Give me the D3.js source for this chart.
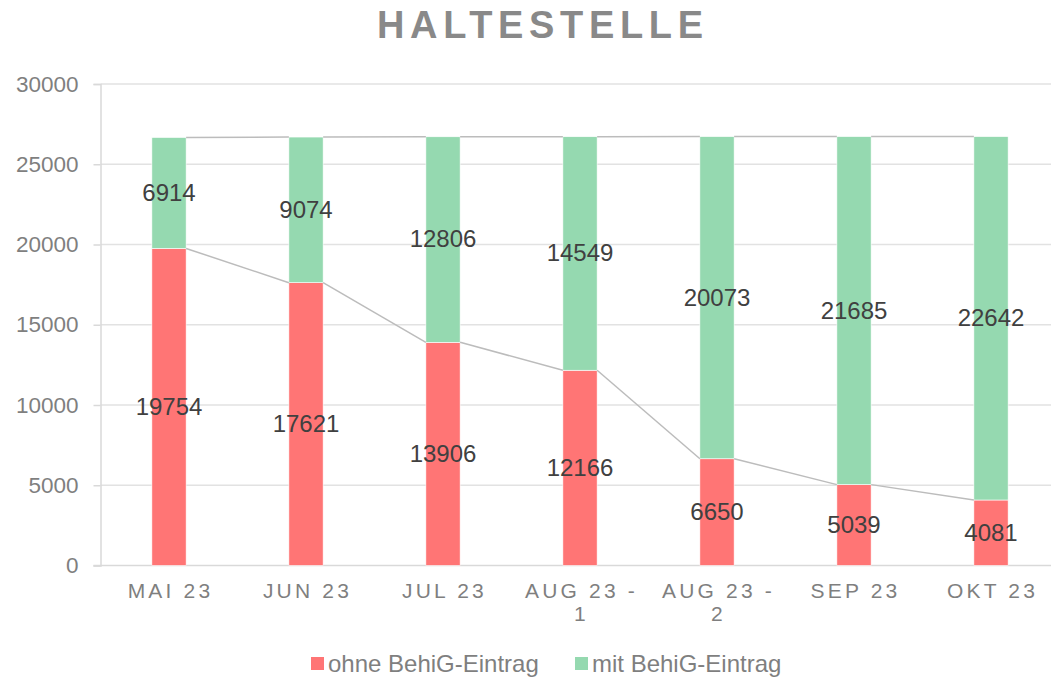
<!DOCTYPE html>
<html>
<head>
<meta charset="utf-8">
<script src="https://cdn.jsdelivr.net/npm/d3@7"></script>
<style>
  body { margin: 0; background: #fff; }
  text { font-family: "Liberation Sans", Arial, sans-serif; }
</style>
</head>
<body>
<div id="chart"></div>
<script>

const categories = [["MAI 23"], ["JUN 23"], ["JUL 23"], ["AUG 23 -", "1"], ["AUG 23 -", "2"], ["SEP 23"], ["OKT 23"]];
const ohne = [19754, 17621, 13906, 12166, 6650, 5039, 4081];
const mit = [6914, 9074, 12806, 14549, 20073, 21685, 22642];
const seriesNames = ["ohne BehiG-Eintrag", "mit BehiG-Eintrag"];
const yTicks = [0, 5000, 10000, 15000, 20000, 25000, 30000];

const W = 1051, H = 678;
const X0 = 100.5, X1 = 1059.5;
const Y_TOP = 84, Y_BOT = 565.5;

const COLOR_RED = "#ff7575";
const COLOR_GREEN = "#95d9b0";
const COLOR_TEXT = "#7f7f7f";
const COLOR_LABEL = "#404040";
const COLOR_GRID = "#e2e2e2";

// -------------------------------------------------

let svg = d3.select("#chart")
            .append("svg")
                .attr("width", W)
                .attr("height", H);

let keys = categories.map((c, i) => i);

let table = keys.map(i => ({ i: i, ohne: ohne[i], mit: mit[i] }));
let stacked = d3.stack().keys(["ohne", "mit"])(table);

let x = d3.scaleBand()
            .domain(keys)
            .range([X0, X1])
            .paddingInner(0.75)
            .paddingOuter(0.375);

let y = d3.scaleLinear()
            .domain([0, 30000])
            .range([Y_BOT, Y_TOP]);

// title, letter-spaced bold
svg.append("text")
        .attr("x", 540)
        .attr("y", 37.5)
        .attr("text-anchor", "middle")
        .attr("font-weight", "bold")
        .attr("font-size", 38)
        .attr("textLength", 326)
        .attr("lengthAdjust", "spacing")
        .attr("fill", "#898989")
        .text("HALTESTELLE");

// gridlines
svg.append("g")
    .selectAll("line")
    .data(yTicks.filter(d => d > 0))
    .join("line")
        .attr("x1", X0)
        .attr("x2", X1)
        .attr("y1", d => y(d))
        .attr("y2", d => y(d))
        .attr("stroke", COLOR_GRID)
        .attr("stroke-width", 1.5);

// y axis
let yAxis = svg.append("g")
        .attr("transform", "translate(" + X0 + ",0)")
        .call(d3.axisLeft(y).tickValues(yTicks).tickSize(7).tickPadding(15).tickFormat(d3.format("d")));

yAxis.select(".domain").attr("stroke", "#d9d9d9").attr("stroke-width", 1.5);
yAxis.selectAll(".tick line").attr("stroke", "#d9d9d9").attr("stroke-width", 1.5);
yAxis.selectAll(".tick text")
        .attr("font-family", "'Liberation Sans', Arial, sans-serif")
        .attr("font-size", 22.5)
        .attr("fill", COLOR_TEXT);

// x axis line
svg.append("line")
        .attr("x1", X0 - 7)
        .attr("x2", X1)
        .attr("y1", Y_BOT)
        .attr("y2", Y_BOT)
        .attr("stroke", "#d9d9d9")
        .attr("stroke-width", 1.5);

// bars
let colors = [COLOR_RED, COLOR_GREEN];

svg.append("g")
    .selectAll("g")
    .data(stacked)
    .join("g")
        .attr("fill", (d, k) => colors[k])
    .selectAll("rect")
    .data(d => d)
    .join("rect")
        .attr("x", d => x(d.data.i))
        .attr("y", d => y(d[1]))
        .attr("width", x.bandwidth())
        .attr("height", d => y(d[0]) - y(d[1]))
        .attr("stroke", "#fff")
        .attr("stroke-width", 0.6);

// series lines between the stack tops
stacked.forEach(function (s) {
    for (let i = 0; i < s.length - 1; i++) {
        svg.append("line")
                .attr("x1", x(i) + x.bandwidth())
                .attr("y1", y(s[i][1]))
                .attr("x2", x(i + 1))
                .attr("y2", y(s[i + 1][1]))
                .attr("stroke", "#bcbcbc")
                .attr("stroke-width", 1.5);
    }
});

// value labels
stacked.forEach(function (s) {
    svg.append("g")
        .selectAll("text")
        .data(s)
        .join("text")
            .attr("x", d => x(d.data.i) + x.bandwidth() / 2)
            .attr("y", d => y((d[0] + d[1]) / 2))
            .attr("dy", "0.33em")
            .attr("text-anchor", "middle")
            .attr("font-size", 24)
            .attr("fill", COLOR_LABEL)
            .text(d => d[1] - d[0]);
});

// category labels
let cat = svg.append("g")
    .selectAll("text")
    .data(keys)
    .join("text")
        .attr("x", d => x(d) + x.bandwidth() / 2)
        .attr("y", 598)
        .attr("text-anchor", "middle")
        .attr("font-size", 21)
        .attr("letter-spacing", 3.2)
        .attr("fill", COLOR_TEXT);

cat.selectAll("tspan")
    .data(d => categories[d].map((t, j) => ({ t: t, j: j, c: d })))
    .join("tspan")
        .attr("x", d => x(d.c) + x.bandwidth() / 2 + 1.5)
        .attr("dy", d => d.j === 0 ? 0 : 23)
        .text(d => d.t);

// legend
let legendX = [311, 575];

seriesNames.forEach(function (name, k) {
    svg.append("rect")
            .attr("x", legendX[k])
            .attr("y", 657)
            .attr("width", 13)
            .attr("height", 13)
            .attr("fill", colors[k]);

    svg.append("text")
            .attr("x", legendX[k] + 17)
            .attr("y", 672)
            .attr("font-size", 24)
            .attr("fill", COLOR_TEXT)
            .text(name);
});

</script>
</body>
</html>
